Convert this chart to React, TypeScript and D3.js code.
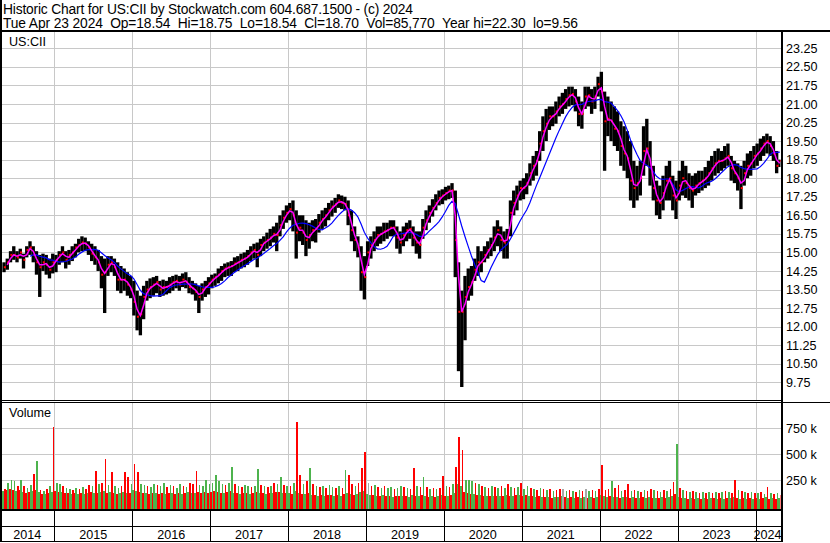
import * as d3 from 'd3'

// ─── Header text ────────────────────────────────────────────────────────────
const titleLine = 'Historic Chart for US:CII by Stockwatch.com 604.687.1500 - (c) 2024'
const quoteFields = [
  'Tue Apr 23 2024',
  'Op=18.54',
  'Hi=18.75',
  'Lo=18.54',
  'Cl=18.70',
  'Vol=85,770',
  'Year hi=22.30',
  'lo=9.56',
]
const symbol = 'US:CII'

// ─── Axis ticks ─────────────────────────────────────────────────────────────
const years = [2014, 2015, 2016, 2017, 2018, 2019, 2020, 2021, 2022, 2023, 2024]
const priceTicks = [
  9.75, 10.5, 11.25, 12, 12.75, 13.5, 14.25, 15, 15.75, 16.5, 17.25, 18, 18.75, 19.5, 20.25, 21,
  21.75, 22.5, 23.25,
]
const volumeTicks = [250, 500, 750] // thousands

// ─── Price data: two bars per month, May 2014 .. Apr 23 2024 ─────────────────
const firstPeriod = 2014 + 4 / 12
const lastDay = 2024 + 113 / 366

const priceHigh = [
  // 2014 (May-Dec)
  14.6, 14.75, 15.05, 15.25, 15.05, 15.15, 14.95, 15.25, 15.45, 15.25, 15.05, 14.9, 14.95, 14.9, 14.75, 14.95,
  // 2015
  14.9, 15.05, 15.25, 15.05, 15.1, 15.25, 15.35, 15.55, 15.65, 15.6, 15.45, 15.35, 15.25, 15.1, 14.85, 14.75, 14.85, 14.85, 14.75, 14.6, 14.45, 14.35, 14.2, 14.05,
  // 2016
  13.85, 13.45, 13.25, 13.65, 13.85, 13.95, 14.0, 14.05, 13.85, 13.9, 13.85, 14.0, 14.05, 14.1, 14.05, 14.15, 14.2, 14.0, 13.85, 13.75, 13.65, 13.75, 13.85, 14.0,
  // 2017
  14.1, 14.15, 14.35, 14.45, 14.55, 14.6, 14.65, 14.8, 14.85, 14.95, 15.0, 15.1, 15.25, 15.35, 15.4, 15.55, 15.65, 15.8, 15.95, 16.05, 16.2, 16.5, 16.7, 16.9,
  // 2018
  17.0, 17.1, 16.7, 16.5, 16.5, 16.3, 16.2, 16.3, 16.35, 16.55, 16.7, 16.8, 17.0, 17.1, 17.2, 17.35, 17.3, 17.25, 17.1, 16.7, 16.05, 15.65, 15.25, 14.85,
  // 2019
  15.45, 15.65, 15.85, 16.05, 16.05, 16.2, 16.2, 16.3, 16.3, 16.05, 15.85, 16.05, 16.2, 16.3, 16.05, 15.85, 15.85, 16.35, 16.7, 16.9, 17.15, 17.35, 17.5, 17.55,
  // 2020
  17.65, 17.7, 17.8, 17.5, 14.6, 13.45, 14.05, 14.35, 14.45, 14.75, 15.25, 15.05, 15.25, 15.45, 15.6, 16.05, 16.3, 16.05, 15.85, 15.95, 17.1, 17.5, 17.7, 17.9,
  // 2021
  18.0, 18.2, 18.6, 18.9, 19.1, 19.9, 20.5, 20.8, 20.9, 20.9, 21.1, 21.3, 21.45, 21.6, 21.7, 21.7, 21.6, 21.3, 21.1, 21.7, 21.7, 21.6, 21.7, 22.1,
  // 2022
  22.3, 21.5, 21.3, 21.1, 20.9, 20.7, 20.3, 20.1, 19.9, 19.5, 18.7, 18.5, 18.7, 20.1, 20.4, 19.5, 18.5, 17.9, 17.7, 18.1, 18.5, 18.7, 18.1, 17.9,
  // 2023
  18.3, 18.7, 18.5, 18.2, 18.1, 18.2, 18.3, 18.3, 18.45, 18.7, 18.9, 19.1, 19.2, 19.1, 19.3, 19.4, 18.9, 18.7, 18.6, 18.5, 18.7, 19.0, 19.1, 19.3,
  // 2024 (Jan-Apr)
  19.4, 19.6, 19.7, 19.8, 19.7, 19.5, 19.1, 18.75,
]

const priceLow = [
  14.2, 14.3, 14.6, 14.7, 14.6, 14.75, 14.35, 14.8, 14.9, 14.6, 14.1, 13.2, 14.25, 14.1, 13.95, 14.15,
  14.2, 14.5, 14.6, 14.35, 14.5, 14.65, 14.8, 15.0, 15.05, 15.05, 14.9, 14.65, 14.5, 14.25, 13.55, 12.55, 14.05, 14.2, 14.05, 13.45, 13.35, 13.45, 13.25, 13.15,
  12.45, 11.85, 11.65, 12.3, 13.05, 13.15, 13.25, 13.35, 13.2, 13.25, 13.3, 13.35, 13.45, 13.55, 13.45, 13.6, 13.55, 13.35, 13.3, 13.05, 12.55, 13.05, 13.2, 13.3,
  13.55, 13.65, 13.75, 13.85, 14.0, 14.05, 14.05, 14.2, 14.25, 14.35, 14.4, 14.5, 14.65, 14.75, 14.4, 14.85, 15.05, 15.15, 15.25, 15.4, 15.05, 15.65, 15.95, 16.2,
  16.3, 15.85, 14.75, 15.45, 15.3, 14.85, 15.15, 15.45, 15.4, 15.8, 15.95, 16.05, 16.3, 16.45, 16.6, 16.8, 16.75, 16.7, 16.1, 15.45, 15.05, 14.8, 13.45, 13.1,
  14.45, 14.75, 15.05, 15.25, 15.35, 15.45, 15.55, 15.65, 15.65, 15.15, 14.95, 15.25, 15.45, 15.55, 15.25, 14.95, 14.75, 15.55, 15.9, 16.2, 16.45, 16.7, 16.9, 16.95,
  17.1, 17.15, 17.2, 14.0, 10.2, 9.56, 11.45, 13.05, 13.25, 13.85, 14.05, 14.2, 14.6, 14.75, 14.85, 15.05, 15.25, 15.05, 14.75, 14.75, 15.65, 16.5, 16.7, 17.1,
  17.15, 17.35, 17.7, 17.9, 18.1, 18.7, 19.1, 19.5, 19.95, 20.1, 20.2, 20.5, 20.6, 20.8, 20.9, 20.95, 20.7, 20.1, 20.0, 20.8, 20.9, 20.6, 20.8, 21.3,
  20.7, 18.3, 19.7, 19.5, 19.3, 19.1, 18.5, 18.3, 18.0, 17.1, 16.8, 17.1, 17.3, 18.1, 18.5, 17.7, 17.1, 16.5, 16.35, 16.7, 17.1, 17.1, 16.7, 16.35,
  17.1, 17.3, 17.2, 17.1, 16.8, 17.3, 17.4, 17.5, 17.6, 17.7, 17.9, 18.1, 18.2, 18.3, 18.4, 18.5, 17.9, 17.8, 17.5, 16.75, 17.7, 18.0, 18.1, 18.4,
  18.5, 18.7, 18.9, 19.0, 18.9, 18.7, 18.2, 18.45,
]

const priceClose = [
  14.4, 14.6, 14.9, 14.9, 14.8, 15.0, 14.7, 15.1, 15.2, 14.9, 14.6, 14.4, 14.6, 14.5, 14.3, 14.6,
  14.7, 14.9, 15.0, 14.7, 14.9, 15.0, 15.2, 15.3, 15.4, 15.35, 15.2, 14.95, 14.8, 14.6, 14.1, 14.2, 14.5, 14.6, 14.4, 13.9, 13.9, 13.9, 13.7, 13.5,
  13.0, 12.4, 12.5, 13.2, 13.5, 13.6, 13.7, 13.8, 13.5, 13.6, 13.6, 13.7, 13.8, 13.85, 13.7, 13.9, 13.8, 13.6, 13.55, 13.4, 13.2, 13.5, 13.6, 13.75,
  13.9, 14.0, 14.1, 14.25, 14.35, 14.4, 14.45, 14.55, 14.6, 14.7, 14.75, 14.85, 15.0, 15.1, 14.9, 15.3, 15.4, 15.5, 15.6, 15.75, 15.7, 16.1, 16.4, 16.6,
  16.75, 16.5, 15.8, 16.0, 15.8, 15.5, 15.7, 15.9, 15.95, 16.2, 16.35, 16.5, 16.7, 16.85, 16.95, 17.1, 17.0, 16.95, 16.5, 15.9, 15.5, 15.2, 14.2, 14.0,
  15.0, 15.3, 15.5, 15.7, 15.75, 15.85, 15.9, 16.0, 16.0, 15.6, 15.4, 15.7, 15.9, 15.95, 15.6, 15.4, 15.3, 16.0, 16.3, 16.6, 16.8, 17.0, 17.2, 17.3,
  17.4, 17.5, 17.5, 15.5, 12.6, 12.6, 13.2, 13.6, 13.8, 14.3, 14.6, 14.6, 14.9, 15.1, 15.3, 15.6, 15.9, 15.5, 15.4, 15.6, 16.6, 17.0, 17.3, 17.6,
  17.6, 17.8, 18.2, 18.5, 18.7, 19.4, 19.9, 20.2, 20.5, 20.5, 20.7, 20.9, 21.0, 21.2, 21.35, 21.4, 21.1, 20.6, 20.6, 21.3, 21.35, 21.1, 21.3, 21.8,
  21.5, 20.3, 20.4, 20.3, 20.0, 19.9, 19.3, 19.0, 18.8, 17.9, 17.6, 17.8, 18.0, 19.1, 19.2, 18.4, 17.6, 17.1, 17.0, 17.4, 17.9, 18.0, 17.3, 17.1,
  17.7, 18.0, 17.8, 17.6, 17.5, 17.7, 17.8, 17.9, 18.0, 18.2, 18.4, 18.6, 18.7, 18.7, 18.8, 18.9, 18.4, 18.2, 18.0, 17.6, 18.2, 18.5, 18.6, 18.9,
  19.0, 19.2, 19.4, 19.5, 19.3, 19.0, 18.5, 18.7,
]

// ─── Volume (thousands of shares), same half-month periods ─────────────────
const volumeBase = [
  150, 160, 170, 160, 150, 160, 140, 130, 140, 150, 160, 140, 120, 120, 130, 140,
  150, 140, 140, 130, 130, 120, 130, 120, 130, 120, 130, 140, 130, 130, 140, 150, 130, 140, 130, 120, 130, 140, 130, 130,
  160, 150, 140, 130, 130, 120, 130, 130, 120, 130, 120, 130, 130, 120, 130, 120, 130, 140, 130, 130, 140, 130, 140, 130,
  140, 150, 140, 130, 130, 140, 150, 130, 130, 120, 130, 130, 120, 130, 140, 130, 130, 120, 130, 130, 140, 140, 130, 130,
  130, 120, 150, 130, 120, 120, 130, 110, 110, 100, 110, 100, 110, 110, 100, 110, 100, 120, 130, 120, 110, 120, 140, 150,
  120, 110, 110, 100, 100, 110, 100, 100, 90, 100, 100, 100, 100, 90, 110, 100, 100, 110, 100, 90, 100, 90, 100, 110,
  100, 100, 110, 130, 220, 200, 140, 130, 120, 120, 110, 110, 100, 100, 100, 100, 100, 100, 100, 110, 100, 100, 110, 110,
  100, 110, 100, 100, 90, 100, 90, 90, 90, 80, 90, 90, 100, 90, 80, 90, 80, 90, 80, 90, 80, 90, 80, 90,
  110, 100, 90, 100, 90, 90, 80, 90, 90, 80, 90, 80, 80, 90, 80, 90, 80, 80, 80, 90, 80, 90, 100, 120,
  90, 80, 80, 70, 80, 70, 80, 70, 80, 70, 80, 80, 70, 80, 70, 80, 80, 90, 80, 70, 80, 70, 80, 70,
  80, 70, 80, 90, 70, 80, 70, 80,
]

const volumePeak = [
  170, 230, 250, 240, 200, 250, 200, 180, 210, 310, 440, 160, 150, 170, 200, 760,
  230, 220, 200, 180, 170, 160, 180, 170, 190, 170, 210, 200, 345, 220, 230, 456, 210, 330, 200, 180, 200, 330, 285, 220,
  408, 330, 220, 210, 200, 190, 220, 210, 200, 230, 190, 210, 200, 180, 220, 200, 190, 230, 220, 340, 210, 200, 250, 220,
  230, 300, 240, 220, 210, 230, 380, 220, 200, 190, 210, 200, 190, 200, 360, 210, 200, 190, 200, 230, 220, 285, 210, 200,
  200, 230, 812, 300, 220, 240, 370, 220, 200, 190, 200, 180, 210, 190, 180, 200, 180, 350, 300, 220, 200, 230, 370, 523,
  230, 200, 210, 190, 180, 200, 180, 190, 170, 180, 200, 190, 180, 170, 370, 200, 190, 283, 190, 170, 180, 170, 180, 290,
  200, 190, 220, 382, 667, 542, 254, 250, 240, 230, 220, 200, 190, 180, 200, 190, 180, 200, 180, 216, 190, 180, 190, 226,
  170, 200, 180, 170, 160, 180, 170, 160, 170, 150, 160, 170, 168, 150, 160, 150, 140, 160, 150, 168, 150, 160, 150, 170,
  398, 160, 170, 245, 180, 206, 150, 160, 216, 150, 160, 150, 140, 160, 150, 170, 160, 150, 140, 160, 150, 170, 235, 600,
  180, 160, 150, 140, 150, 140, 130, 140, 130, 140, 130, 140, 130, 140, 150, 140, 130, 254, 160, 150, 140, 130, 140, 130,
  130, 140, 120, 187, 130, 120, 130, 110,
]

// colour of each period's busiest day: g = up, r = down, n = unchanged
const peakDirection = (
  'rgggrgrggrgrgrgr' +
  'ggrggrgrgrrgrgrrgrggrrrg' +
  'rrggrggrggrgrggrgrrrgggg' +
  'ggggrggrgrggrggrgrgrggrg' +
  'rgrrgrgrgrgrggrgrgrrgrrr' +
  'nrgrgrggrggrgrrgrgrgrgrr' +
  'grgrrrgggrgrgrgrgrgrgrgr' +
  'ggrgrgrgrgrrngrgrgrngrgr' +
  'rrrgrrgrrgrgrgrrgrgrgrrg' +
  'rgrgrgrgrgrgrgrgrrgrgrgr' +
  'grgrgrgr'
).split('')

// ─── Layout / style ─────────────────────────────────────────────────────────
const W = 830
const H = 543
const plot = { left: 2, right: 780.5 }
const pricePanel = { top: 32, bottom: 400 }
const volPanel = { top: 402.5, bottom: 509.5 }
const font = 'Arial, "Liberation Sans", sans-serif'
const colors = {
  grid: '#c8c8c8',
  bar: '#000000',
  tick: '#ff0000',
  fast: '#ff00ff',
  slow: '#0000ff',
  up: '#4db34d',
  down: '#ff0000',
  flat: '#a8a8a8',
}
const dirColor: Record<string, string> = { g: colors.up, r: colors.down, n: colors.flat }
const otherColor: Record<string, string> = { g: colors.down, r: colors.up, n: colors.up }

function sma(values: number[], n: number) {
  return values.map((_, i) => (i < n - 1 ? null : d3.mean(values.slice(i - n + 1, i + 1))!))
}

export default function App() {
  const x = d3.scaleLinear().domain([2015, 2024]).range([54.3, 755.5])
  const y = d3.scaleLinear().domain([9.75, 23.25]).range([382.3, 48.3])
  const v = d3.scaleLinear().domain([0, 750]).range([506.5, 428.3])

  const periodT = (i: number) => firstPeriod + i / 24
  const barW = x(firstPeriod + 1 / 24) - x(firstPeriod)

  const fastMa = sma(priceClose, 2)
  const slowMa = sma(priceClose, 9)
  const maLine = d3
    .line<number | null>()
    .defined((d) => d != null)
    .x((_, i) => x(periodT(i) + 1 / 48))
    .y((d) => y(d as number))

  const gridX = years.slice(1).map((yr) => Math.round(x(yr)) + 0.5)
  const yearSpans = years.map((yr) => {
    const a = Math.max(0, x(yr))
    const b = Math.min(x(lastDay), x(yr + 1))
    return { yr, mid: (a + b) / 2 }
  })

  // double spaces between fields, kept with a non-breaking space
  const quoteLine = quoteFields.join(' \u00a0')

  return (
    <svg
      width={W}
      height={H}
      viewBox={`0 0 ${W} ${H}`}
      style={{ position: 'absolute', left: 0, top: 0, display: 'block', background: '#fff' }}
      fontFamily={font}
    >
      <defs>
        <clipPath id="price-clip">
          <rect x={plot.left} y={pricePanel.top} width={plot.right - plot.left} height={pricePanel.bottom - pricePanel.top} />
        </clipPath>
        <clipPath id="vol-clip">
          <rect x={plot.left} y={volPanel.top} width={plot.right - plot.left} height={volPanel.bottom - volPanel.top} />
        </clipPath>
      </defs>
      <rect width={W} height={H} fill="#fff" />

      {/* header */}
      <text x={3} y={14} fontSize={13.8} fill="#000" textLength={410} lengthAdjust="spacing">{titleLine}</text>
      <text x={3} y={28} fontSize={13.8} fill="#000" textLength={575} lengthAdjust="spacing">{quoteLine}</text>

      {/* grid */}
      <g stroke={colors.grid} strokeWidth={1} shapeRendering="crispEdges">
        {priceTicks.map((p) => (
          <line key={p} x1={plot.left} x2={plot.right} y1={Math.round(y(p)) + 0.5} y2={Math.round(y(p)) + 0.5} />
        ))}
        {gridX.map((gx) => (
          <line key={gx} x1={gx} x2={gx} y1={pricePanel.top} y2={pricePanel.bottom} />
        ))}
        {volumeTicks.map((t) => (
          <line key={t} x1={plot.left} x2={plot.right} y1={Math.round(v(t)) + 0.5} y2={Math.round(v(t)) + 0.5} />
        ))}
        {gridX.map((gx) => (
          <line key={'v' + gx} x1={gx} x2={gx} y1={volPanel.top} y2={volPanel.bottom} />
        ))}
      </g>

      {/* price bars */}
      <g clipPath="url(#price-clip)">
        {priceHigh.map((hi, i) => {
          const x0 = x(periodT(i))
          return (
            <rect key={i} x={x0} y={y(hi)} width={barW + 0.1} height={Math.max(1, y(priceLow[i]) - y(hi))} fill={colors.bar} />
          )
        })}
        {priceClose.map((c, i) => (
          <rect key={'c' + i} x={x(periodT(i)) + 1.5} y={y(c) - 1} width={2} height={2} fill={colors.tick} />
        ))}
        <path d={maLine(slowMa) ?? ''} fill="none" stroke={colors.slow} strokeWidth={1.2} />
        <path d={maLine(fastMa) ?? ''} fill="none" stroke={colors.fast} strokeWidth={1.5} />
      </g>
      <text x={9} y={46} fontSize={12.6} fill="#000">{symbol}</text>

      {/* volume bars: typical day + busiest day for each half-month */}
      <g clipPath="url(#vol-clip)" shapeRendering="crispEdges">
        {volumeBase.map((b, i) => {
          const x0 = x(periodT(i))
          const dir = peakDirection[i] ?? 'g'
          const pk = volumePeak[i]
          return (
            <g key={i}>
              <rect x={x0} y={v(b)} width={1.65} height={volPanel.bottom - v(b)} fill={otherColor[dir]} />
              <rect x={x0 + 1.65} y={v(pk)} width={1.6} height={volPanel.bottom - v(pk)} fill={dirColor[dir]} />
            </g>
          )
        })}
      </g>
      <text x={9} y={417} fontSize={12.6} fill="#000">Volume</text>

      {/* frame lines */}
      <g fill="#000" shapeRendering="crispEdges">
        <rect x={0} y={0} width={2} height={H - 1} />
        <rect x={0} y={30} width={W} height={2} />
        <rect x={0} y={400} width={782.5} height={1} />
        <rect x={0} y={402} width={W} height={1} />
        <rect x={0} y={509} width={782.5} height={2} />
        <rect x={0} y={525.5} width={782.5} height={1.5} />
        <rect x={0} y={540.5} width={782.5} height={1.5} />
        <rect x={780.5} y={31} width={2} height={511} />
        {gridX.map((gx) => (
          <rect key={'t' + gx} x={gx - 0.75} y={510} width={1.5} height={31} />
        ))}
      </g>

      {/* right axis labels */}
      {priceTicks.map((p) => (
        <text key={p} x={786} y={y(p)} dy="0.36em" fontSize={12.6} fill="#000">
          {p.toFixed(2)}
        </text>
      ))}
      {volumeTicks.map((t) => (
        <text key={t} x={786} y={v(t)} dy="0.36em" fontSize={12.6} fill="#000">
          {`${t} k`}
        </text>
      ))}

      {/* year labels */}
      {yearSpans.map((s) => (
        <text key={s.yr} x={s.mid} y={539} textAnchor="middle" fontSize={12.6} fill="#000">
          {s.yr}
        </text>
      ))}
    </svg>
  )
}
